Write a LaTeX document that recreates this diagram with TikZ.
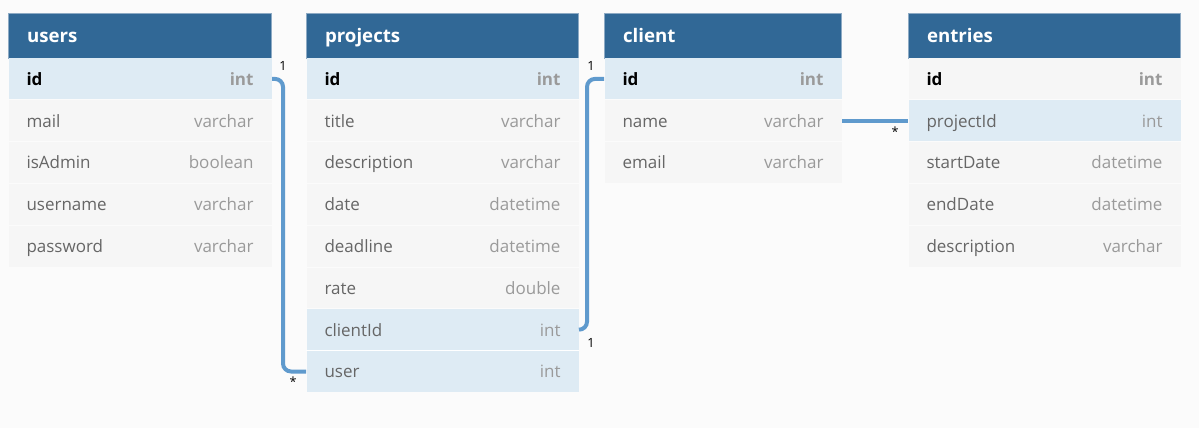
\documentclass[tikz,border=0pt]{standalone}
\usepackage{fontspec}
\setmainfont{Open Sans}

\definecolor{headblue}{HTML}{316896}
\definecolor{headline}{HTML}{8DAAC4}
\definecolor{rowgray}{HTML}{F6F6F6}
\definecolor{rowblue}{HTML}{DEEBF4}
\definecolor{namegray}{HTML}{666666}
\definecolor{typegray}{HTML}{9A9A9A}
\definecolor{linkblue}{HTML}{5F9ACD}
\definecolor{pagegray}{HTML}{FBFBFB}

\newcommand{\fld}[2]{{\color{namegray}#1}\hfill{\color{typegray}#2}}
\newcommand{\pkfld}[2]{{\bfseries\color{black}#1}\hfill{\bfseries\color{typegray}#2}}

\tikzset{every picture/.style={line width=0.75pt}}

\begin{document}
\begin{tikzpicture}[x=0.75pt,y=0.75pt,yscale=-1,xscale=1,
    headbox/.style={fill=headblue, draw=headline, line width=0.6pt, anchor=north west,
      minimum height=33.75pt, inner xsep=14pt, inner ysep=0pt, text width=#1,
      text height=11.5pt, text depth=1.5pt, text=white,
      font=\fontsize{14pt}{16pt}\selectfont\bfseries},
    fieldrow/.style={fill=rowgray, anchor=north west, minimum height=30.6pt,
      inner xsep=13.5pt, inner ysep=0pt, text width=#1,
      text height=11pt, text depth=1.5pt,
      font=\fontsize{12.75pt}{15pt}\selectfont},
    keyrow/.style={fieldrow=#1, fill=rowblue},
    link/.style={draw=linkblue, line width=3pt, rounded corners=6},
    cardlabel/.style={inner sep=0pt, font=\fontsize{9.5pt}{11pt}\selectfont}
  ]
    %set diagram size 1199 x 428
    \useasboundingbox (0,0) rectangle (1199,428);
    \fill [pagegray] (0,0) rectangle (1199,428);

    %Table: users
    \node [headbox=169.25pt] (users) at (8,13) {users};
    \node [keyrow=170.25pt] (users-id) at (8,58) {\pkfld{id}{int}};
    \node [fieldrow=170.25pt] (users-mail) at (users-id.south west) {\fld{mail}{varchar}};
    \node [fieldrow=170.25pt] (users-isAdmin) at (users-mail.south west) {\fld{isAdmin}{boolean}};
    \node [fieldrow=170.25pt] (users-username) at (users-isAdmin.south west) {\fld{username}{varchar}};
    \node [fieldrow=170.25pt] (users-password) at (users-username.south west) {\fld{password}{varchar}};

    %Table: projects
    \node [headbox=176pt] (projects) at (306,13) {projects};
    \node [keyrow=177pt] (projects-id) at (306,58) {\pkfld{id}{int}};
    \node [fieldrow=177pt] (projects-title) at (projects-id.south west) {\fld{title}{varchar}};
    \node [fieldrow=177pt] (projects-description) at (projects-title.south west) {\fld{description}{varchar}};
    \node [fieldrow=177pt] (projects-date) at (projects-description.south west) {\fld{date}{datetime}};
    \node [fieldrow=177pt] (projects-deadline) at (projects-date.south west) {\fld{deadline}{datetime}};
    \node [fieldrow=177pt] (projects-rate) at (projects-deadline.south west) {\fld{rate}{double}};
    \node [keyrow=177pt] (projects-clientId) at (projects-rate.south west) {\fld{clientId}{int}};
    \node [keyrow=177pt] (projects-user) at (projects-clientId.south west) {\fld{user}{int}};
    \draw [white, line width=0.5pt] (projects-user.north west) -- (projects-user.north east);

    %Table: client
    \node [headbox=149.75pt] (client) at (604,13) {client};
    \node [keyrow=150.75pt] (client-id) at (604,58) {\pkfld{id}{int}};
    \node [fieldrow=150.75pt] (client-name) at (client-id.south west) {\fld{name}{varchar}};
    \node [fieldrow=150.75pt] (client-email) at (client-name.south west) {\fld{email}{varchar}};

    %Table: entries
    \node [headbox=176pt] (entries) at (908,13) {entries};
    \node [fieldrow=177pt] (entries-id) at (908,58) {\pkfld{id}{int}};
    \node [keyrow=177pt] (entries-projectId) at (entries-id.south west) {\fld{projectId}{int}};
    \node [fieldrow=177pt] (entries-startDate) at (entries-projectId.south west) {\fld{startDate}{datetime}};
    \node [fieldrow=177pt] (entries-endDate) at (entries-startDate.south west) {\fld{endDate}{datetime}};
    \node [fieldrow=177pt] (entries-description) at (entries-endDate.south west) {\fld{description}{varchar}};

    %Links
    \draw [link] (users-id.east) -- ++(11,0) |- (projects-user.west);
    \draw [link] (projects-clientId.east) -- ++(8,0) |- (client-id.west);
    \draw [link] (client-name.east) -- (entries-projectId.west);

    %Cardinality
    \node [cardlabel] (users-one) at (283,66) {1};
    \node [cardlabel] (user-many) at (293,382) {*};
    \node [cardlabel] (client-one) at (591,66) {1};
    \node [cardlabel] (clientId-one) at (591,343) {1};
    \node [cardlabel] (projectId-many) at (895,132) {*};

  \end{tikzpicture}
\end{document}
